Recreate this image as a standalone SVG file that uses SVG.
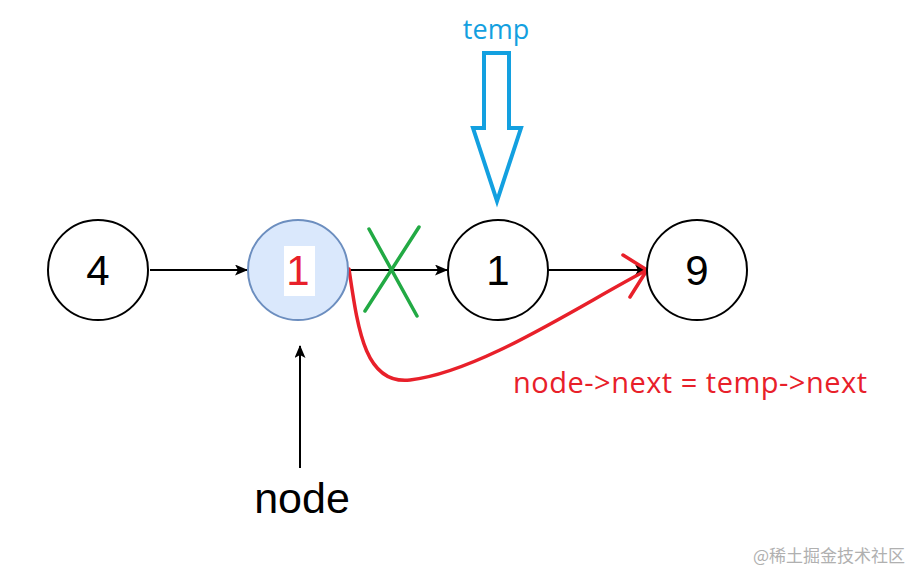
<svg xmlns="http://www.w3.org/2000/svg" width="915" height="573" viewBox="0 0 915 573">
<defs>
<style>
.c{fill:#fff;stroke:#000;stroke-width:2}
.num{font-family:"Liberation Sans",Arial,sans-serif;font-size:42px;text-anchor:middle}
.lbl{font-family:"Open Sans","Noto Sans",sans-serif;font-size:27px}
.edge{stroke:#000;stroke-width:2;fill:none}
</style>
<marker id="ah" markerWidth="13" markerHeight="11" refX="12" refY="5.5" orient="auto" markerUnits="userSpaceOnUse">
<path d="M0,0 L13,5.5 L0,11 L3,5.5 Z" fill="#000"/>
</marker>
</defs>
<rect width="915" height="573" fill="#fff"/>
<g id="connectors">
<line class="edge" x1="150" y1="270" x2="247" y2="270" marker-end="url(#ah)"/>
<line class="edge" x1="349" y1="270" x2="447" y2="270" marker-end="url(#ah)"/>
<line class="edge" x1="548" y1="270" x2="647" y2="270" marker-end="url(#ah)"/>
<line class="edge" x1="300" y1="468" x2="300" y2="346" marker-end="url(#ah)"/>
<g id="cross" stroke="#22aa44" stroke-width="3.5" stroke-linecap="round">
<line x1="369" y1="229" x2="417" y2="316"/>
<line x1="419" y1="227" x2="365" y2="311"/>
</g>
<g id="red-link" stroke="#e8202a" stroke-width="3.5" fill="none" stroke-linecap="round" stroke-linejoin="round">
<path d="M349,269 C358,330 365,385 410,380 C480,372 580,305 647,270"/>
<path d="M623,255 L647,270 L630,297"/>
</g>
</g>
<g id="n4"><circle class="c" cx="98" cy="270" r="50"/><text class="num" x="98" y="285">4</text></g>
<g id="n1a"><circle cx="298" cy="270" r="50" fill="#dae8fc" stroke="#6c8ebf" stroke-width="2"/><rect x="284" y="246" width="31" height="50" fill="#fff"/><text class="num" x="298" y="285" fill="#e8202a">1</text></g>
<g id="n1b"><circle class="c" cx="498" cy="270" r="50"/><text class="num" x="498" y="285">1</text></g>
<g id="n9"><circle class="c" cx="697" cy="270" r="50"/><text class="num" x="697" y="285">9</text></g>
<g id="temp">
<text class="lbl" x="496" y="39" text-anchor="middle" fill="#13a0e0">temp</text>
<path d="M484,53 L509,53 L509,128 L521,128 L497,201 L473,128 L484,128 Z" fill="none" stroke="#13a0e0" stroke-width="4" stroke-linejoin="miter"/>
</g>
<g id="node-label"><text class="num" x="302" y="513" style="font-size:43px">node</text></g>
<g id="assign"><text class="lbl" x="513" y="393" fill="#e8202a" style="font-size:29px" textLength="354">node-&gt;next = temp-&gt;next</text></g>
<text x="905" y="562" text-anchor="end" font-family="'Noto Sans CJK SC',sans-serif" font-size="17" fill="#b0b0b0">@稀土掘金技术社区</text>
</svg>
